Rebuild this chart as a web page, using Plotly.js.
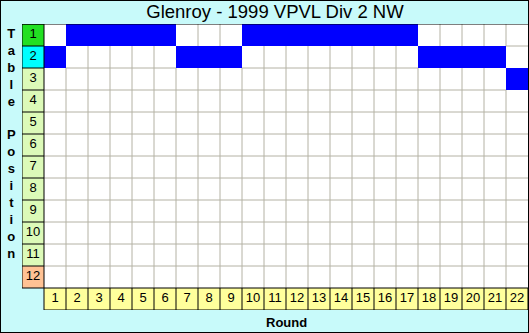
<!DOCTYPE html>
<html>
<head>
<meta charset="utf-8">
<script src="https://cdn.plot.ly/plotly-3.0.1.min.js"></script>
<style>
  html, body { margin: 0; padding: 0; background: #ffffff; }
  #wrap { position: relative; width: 529px; height: 333px; }
  #chart { width: 529px; height: 333px; }
  #frame { position: absolute; left: 0; top: 0; width: 529px; height: 333px;
           box-sizing: border-box; border: 1px solid #000; pointer-events: none; }
</style>
</head>
<body>
<div id="wrap"><div id="chart"></div><div id="frame"></div></div>
<script>
// Glenroy ladder position after each round, 1999 VPVL Div 2 NW
const rounds = [1,2,3,4,5,6,7,8,9,10,11,12,13,14,15,16,17,18,19,20,21,22];
const tablePosition = [2,1,1,1,1,1,2,2,2,1,1,1,1,1,1,1,1,2,2,2,2,3];
const positionLabels = [1,2,3,4,5,6,7,8,9,10,11,12];
const chartTitle = 'Glenroy - 1999 VPVL Div 2 NW';
const xTitle = 'Round';
const yTitle = 'Table Position';

// colour codes used by the cell heatmap
const C_EMPTY = 0, C_TEAM = 1, C_FIRST = 2, C_SECOND = 3, C_MID = 4, C_LAST = 5, C_ROUND = 6;
const palette = ['#ffffff', '#0000ff', '#22e022', '#00ffff', '#dcfab8', '#ffc294', '#ffff9c'];
const nCodes = palette.length;
const colorscale = [];
palette.forEach((c, k) => {
  colorscale.push([k / nCodes, c]);
  colorscale.push([(k + 1) / nCodes, c]);
});

const nRows = positionLabels.length;
const nCols = rounds.length;
const isTeam = (round, pos) =>
  round >= 1 && round <= nCols && tablePosition[round - 1] === pos;

// z[row][col]: col 0 = position label column, row nRows+1 = round label row
const xs = [0].concat(rounds);
const ys = positionLabels.concat([nRows + 1]);
const z = ys.map((y) => xs.map((x, ci) => {
  if (ci === 0) {
    if (y > nRows) return null;
    if (y === 1) return C_FIRST;
    if (y === 2) return C_SECOND;
    if (y === nRows) return C_LAST;
    return C_MID;
  }
  if (y > nRows) return C_ROUND;
  return isTeam(x, y) ? C_TEAM : C_EMPTY;
}));

const cells = {
  type: 'heatmap', x: xs, y: ys, z: z,
  zmin: -0.5, zmax: nCodes - 0.5, colorscale: colorscale,
  showscale: false, hoverinfo: 'skip'
};

// grid lines; grey edges are left out where they touch a team cell
function seg(arr, x0, y0, x1, y1) { arr.x.push(x0, x1, null); arr.y.push(y0, y1, null); }
const grey = { x: [], y: [] };
for (let i = 1; i < nCols; i++) {
  for (let p = 1; p <= nRows; p++) {
    if (isTeam(i, p) || isTeam(i + 1, p)) continue;
    seg(grey, i + 0.5, p - 0.5, i + 0.5, p + 0.5);
  }
}
for (let p = 1; p < nRows; p++) {
  for (let r = 1; r <= nCols; r++) {
    if (isTeam(r, p) || isTeam(r, p + 1)) continue;
    seg(grey, r - 0.5, p + 0.5, r + 0.5, p + 0.5);
  }
}

const black = { x: [], y: [] };
// label column
seg(black, -0.5, 0.5, -0.5, nRows + 0.5);
seg(black, 0.5, 0.5, 0.5, nRows + 1.5);
for (let j = 0; j <= nRows; j++) seg(black, -0.5, j + 0.5, 0.5, j + 0.5);
seg(black, -0.5, 0.5, nCols + 0.5, 0.5);
// round row
seg(black, 0.5, nRows + 0.5, nCols + 0.5, nRows + 0.5);
seg(black, 0.5, nRows + 1.5, nCols + 0.5, nRows + 1.5);
for (let i = 1; i <= nCols; i++) seg(black, i + 0.5, nRows + 0.5, i + 0.5, nRows + 1.5);

const greyLines = { type: 'scatter', mode: 'lines', x: grey.x, y: grey.y,
  line: { color: '#b4b2a4', width: 1 }, hoverinfo: 'skip', showlegend: false };
const blackLines = { type: 'scatter', mode: 'lines', x: black.x, y: black.y,
  line: { color: '#000000', width: 1 }, hoverinfo: 'skip', showlegend: false };

const labelFont = { family: 'Arial, Liberation Sans, sans-serif', size: 13, color: '#000' };
const posText = { type: 'scatter', mode: 'text',
  x: positionLabels.map(() => 0), y: positionLabels, text: positionLabels.map(String),
  textfont: labelFont, hoverinfo: 'skip', showlegend: false };
const roundText = { type: 'scatter', mode: 'text',
  x: rounds, y: rounds.map(() => nRows + 1), text: rounds.map(String),
  textfont: labelFont, hoverinfo: 'skip', showlegend: false };

const bg = '#c8fafa';
const layout = {
  width: 529, height: 333,
  margin: { l: 22, r: 1, t: 24, b: 23 },
  paper_bgcolor: bg, plot_bgcolor: bg,
  showlegend: false,
  title: { text: chartTitle, x: 0.5, xref: 'paper', xanchor: 'center',
           y: 1 - 12 / 333, yref: 'container', yanchor: 'middle',
           font: { family: 'Arial, Liberation Sans, sans-serif', size: 18.5, color: '#000' } },
  xaxis: { range: [-0.5, nCols + 0.5], visible: false, fixedrange: true },
  yaxis: { range: [nRows + 1.5, 0.5], visible: false, fixedrange: true },
  annotations: [
    { text: xTitle, xref: 'x', x: (nCols + 1) / 2, yref: 'paper', y: -(322 - 310) / 286,
      yanchor: 'middle', showarrow: false,
      font: { family: 'Arial, Liberation Sans, sans-serif', size: 13, color: '#000', weight: 'bold' } },
    { text: yTitle.split('').map(ch => ch === ' ' ? '\u00a0' : ch).join('<br>'),
      xref: 'paper', x: (11 - 22) / 506, xanchor: 'center',
      yref: 'paper', y: 1 - (143 - 24) / 286, yanchor: 'middle', showarrow: false,
      font: { family: 'Arial, Liberation Sans, sans-serif', size: 13, color: '#000', weight: 'bold' } }
  ]
};

Plotly.newPlot('chart', [cells, greyLines, blackLines, posText, roundText], layout,
  { staticPlot: true, displayModeBar: false });
</script>
</body>
</html>
